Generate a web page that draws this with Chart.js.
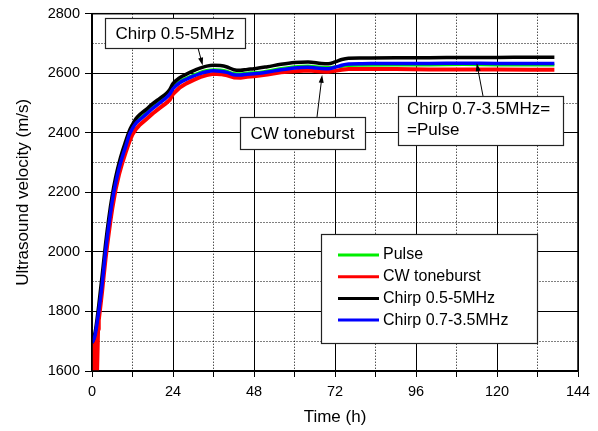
<!DOCTYPE html>
<html>
<head>
<meta charset="utf-8">
<script src="https://cdn.jsdelivr.net/npm/chart.js@4"></script>
<style>
  body { margin: 0; background: #fff; }
  canvas { display: block; }
</style>
</head>
<body>
<canvas id="chart" width="598" height="431"></canvas>
<script>
// time axis (h) shared by Pulse and both chirps
const hours = [0, 0.5, 1, 1.5, 2, 3, 4, 5, 6, 7, 8, 9, 10, 11, 12, 13, 14, 16, 18, 20, 22, 23, 24,
  26, 28, 30, 32, 34, 36, 38, 40, 42, 44, 46, 48, 52, 56, 60, 64, 68, 70, 72, 74, 76, 80,
  90, 100, 110, 120, 130, 137];

const pulse = [1695, 1706, 1727, 1763, 1804, 1895, 2005, 2095, 2175, 2235, 2285, 2326, 2360, 2396, 2419, 2435, 2446,
  2466, 2486, 2504, 2522, 2534, 2552, 2572, 2584, 2594, 2603, 2609, 2612, 2611, 2607, 2599, 2598, 2601, 2602,
  2608, 2616, 2622, 2624, 2620, 2619, 2622, 2623, 2626, 2627, 2628, 2628, 2629, 2628, 2628, 2628];

const chirp05 = [1695, 1708, 1735, 1775, 1820, 1920, 2025, 2115, 2190, 2250, 2298, 2338, 2372, 2405, 2428, 2447, 2460,
  2478, 2498, 2515, 2532, 2545, 2565, 2585, 2597, 2608, 2617, 2624, 2627, 2626, 2621, 2612, 2610, 2613, 2615,
  2622, 2630, 2636, 2638, 2633, 2632, 2638, 2646, 2650, 2651, 2652, 2652, 2653, 2653, 2654, 2654];

const chirp07 = [1695, 1705, 1725, 1760, 1800, 1890, 2000, 2090, 2170, 2230, 2280, 2320, 2355, 2392, 2415, 2432, 2442,
  2462, 2482, 2500, 2518, 2530, 2548, 2568, 2580, 2590, 2599, 2605, 2608, 2607, 2603, 2595, 2594, 2597, 2598,
  2604, 2612, 2618, 2620, 2616, 2615, 2620, 2627, 2631, 2632, 2633, 2633, 2634, 2633, 2633, 2633];

// CW toneburst has its own time base (noisy start near 0 h)
const cwHours = [0, 0.3, 0.6, 0.9, 1.2, 1.5, 1.8, 2,
  2.5, 3, 3.5, 4, 4.5, 5, 5.5, 6, 7, 8, 9, 10, 11, 12, 13, 14, 16, 18, 20, 22, 23, 24,
  26, 28, 30, 32, 34, 36, 38, 40, 42, 44, 46, 48, 52, 56, 60, 64, 68, 70, 72, 74, 76, 80,
  90, 100, 110, 120, 130, 137];
const cwTone = [1705, 1600, 1708, 1600, 1718, 1600, 1740, 1770,
  1818, 1868, 1922, 1975, 2022, 2065, 2107, 2145, 2210, 2260, 2300, 2335, 2368, 2395, 2412, 2425, 2445, 2465, 2483, 2500, 2510, 2530,
  2552, 2566, 2577, 2587, 2594, 2598, 2597, 2593, 2586, 2585, 2588, 2590, 2596, 2603, 2607, 2609, 2606, 2605, 2608, 2612, 2614, 2614,
  2614, 2613, 2613, 2613, 2612, 2612];

const xTicks = [0, 24, 48, 72, 96, 120, 144];
const yTicks = [1600, 1800, 2000, 2200, 2400, 2600, 2800];

const seriesNames = ['Pulse', 'CW toneburst', 'Chirp 0.5-5MHz', 'Chirp 0.7-3.5MHz'];
const seriesColors = ['#00ee00', '#ff0000', '#000000', '#0000ff'];

// callouts: text, box (px), arrow start (px), arrow tip in data units (h, m/s)
const callouts = [
  { lines: ['Chirp 0.5-5MHz'], box: [105, 18, 140, 30], center: true, from: [198, 48], tip: [32.8, 2626] },
  { lines: ['CW toneburst'], box: [240, 117, 125, 32], center: true, from: [317, 117], tip: [68.2, 2595] },
  { lines: ['Chirp 0.7-3.5MHz=', '=Pulse'], box: [398, 96, 165, 49], center: false, from: [483, 96], tip: [114, 2634] }
];

const FONT = 'Liberation Sans, Arial, sans-serif';
Chart.defaults.font.family = FONT;
Chart.defaults.color = '#000';

const toXY = (xs, ys) => xs.map((x, i) => ({ x: x, y: ys[i] }));

function line(label, xs, ys, color, width, order, smooth) {
  return {
    label: label,
    data: toXY(xs, ys),
    borderColor: color,
    backgroundColor: color,
    borderWidth: width,
    borderJoinStyle: 'round',
    pointRadius: 0,
    fill: false,
    cubicInterpolationMode: smooth ? 'monotone' : 'default',
    tension: 0,
    order: order
  };
}

const extras = {
  id: 'extras',
  afterDatasetsDraw(chart) {
    const c = chart.ctx;
    const a = chart.chartArea;
    const sx = chart.scales.x, sy = chart.scales.y;
    c.save();
    // frame
    c.strokeStyle = '#000';
    c.lineWidth = 1.5;
    c.strokeRect(a.left, a.top, a.right - a.left, a.bottom - a.top);

    // callouts
    c.font = '17px ' + FONT;
    c.textBaseline = 'middle';
    callouts.forEach(n => {
      const [bx, by, bw, bh] = n.box;
      // arrow
      const tx = sx.getPixelForValue(n.tip[0]), ty = sy.getPixelForValue(n.tip[1]);
      const fx = n.from[0], fy = n.from[1];
      const ang = Math.atan2(ty - fy, tx - fx);
      c.strokeStyle = '#000';
      c.lineWidth = 1;
      c.beginPath();
      c.moveTo(fx, fy);
      c.lineTo(tx - 6 * Math.cos(ang), ty - 6 * Math.sin(ang));
      c.stroke();
      c.fillStyle = '#000';
      c.beginPath();
      c.moveTo(tx, ty);
      c.lineTo(tx - 8 * Math.cos(ang) + 2.5 * Math.sin(ang), ty - 8 * Math.sin(ang) - 2.5 * Math.cos(ang));
      c.lineTo(tx - 8 * Math.cos(ang) - 2.5 * Math.sin(ang), ty - 8 * Math.sin(ang) + 2.5 * Math.cos(ang));
      c.closePath();
      c.fill();
      // box
      c.fillStyle = '#fff';
      c.fillRect(bx, by, bw, bh);
      c.strokeStyle = '#222';
      c.lineWidth = 1.2;
      c.strokeRect(bx + 0.5, by + 0.5, bw, bh);
      c.fillStyle = '#000';
      if (n.center) {
        c.textAlign = 'center';
        c.fillText(n.lines[0], bx + bw / 2, by + bh / 2 + 1);
      } else {
        c.textAlign = 'left';
        n.lines.forEach((t, i) => c.fillText(t, bx + 9, by + 13 + i * 21));
      }
    });

    // legend box
    const lx = 321, ly = 234, lw = 216, lh = 109;
    c.fillStyle = '#fff';
    c.fillRect(lx, ly, lw, lh);
    c.strokeStyle = '#222';
    c.lineWidth = 1.2;
    c.strokeRect(lx + 0.5, ly + 0.5, lw, lh);
    c.font = '16px ' + FONT;
    c.textAlign = 'left';
    chart.data.datasets.forEach((ds, i) => {
      const yy = 255 + i * 21.7;
      c.strokeStyle = ds.borderColor;
      c.lineWidth = 3;
      c.beginPath();
      c.moveTo(338, yy);
      c.lineTo(379, yy);
      c.stroke();
      c.fillStyle = '#000';
      c.fillText(ds.label, 383, yy);
    });
    c.restore();
  }
};

new Chart(document.getElementById('chart'), {
  type: 'line',
  data: {
    datasets: [
      line(seriesNames[0], hours, pulse, seriesColors[0], 3, 4, true),
      line(seriesNames[1], cwHours, cwTone, seriesColors[1], 4, 3, false),
      line(seriesNames[2], hours, chirp05, seriesColors[2], 3.5, 2, true),
      line(seriesNames[3], hours, chirp07, seriesColors[3], 3.5, 1, true)
    ]
  },
  options: {
    responsive: false,
    animation: false,
    layout: { padding: { top: 13, right: 20, left: 0, bottom: 0 } },
    plugins: { legend: { display: false }, tooltip: { enabled: false } },
    scales: {
      x: {
        type: 'linear',
        min: xTicks[0],
        max: xTicks[xTicks.length - 1],
        ticks: {
          stepSize: 12,
          autoSkip: false,
          maxRotation: 0,
          padding: 6,
          font: { size: 14.5 },
          color: '#000',
          callback: v => xTicks.includes(v) ? String(v) : ''
        },
        grid: { color: '#000', lineWidth: 1, tickLength: 6, tickColor: '#000' },
        border: {
          color: '#000',
          width: 1.5,
          dash: ctx => (ctx.tick && !xTicks.includes(ctx.tick.value)) ? [1, 2] : []
        },
        title: { display: true, text: 'Time (h)', font: { size: 17 }, color: '#000', padding: { top: 0, bottom: 3 } },
        afterFit: s => { s.height = 60; }
      },
      y: {
        type: 'linear',
        min: yTicks[0],
        max: yTicks[yTicks.length - 1],
        ticks: {
          stepSize: 100,
          autoSkip: false,
          padding: 5,
          font: { size: 14.5 },
          color: '#000',
          callback: v => yTicks.includes(v) ? String(v) : ''
        },
        grid: {
          color: '#000',
          lineWidth: 1,
          tickLength: 7,
          tickColor: ctx => (ctx.tick && yTicks.includes(ctx.tick.value)) ? '#000' : 'rgba(0,0,0,0)'
        },
        border: {
          color: '#000',
          width: 1.5,
          dash: ctx => (ctx.tick && !yTicks.includes(ctx.tick.value)) ? [1, 2] : []
        },
        title: { display: true, text: 'Ultrasound velocity (m/s)', font: { size: 17 }, color: '#000', padding: { top: 13, bottom: 0 } },
        afterFit: s => { s.width = 92; }
      }
    }
  },
  plugins: [extras]
});
</script>
</body>
</html>
